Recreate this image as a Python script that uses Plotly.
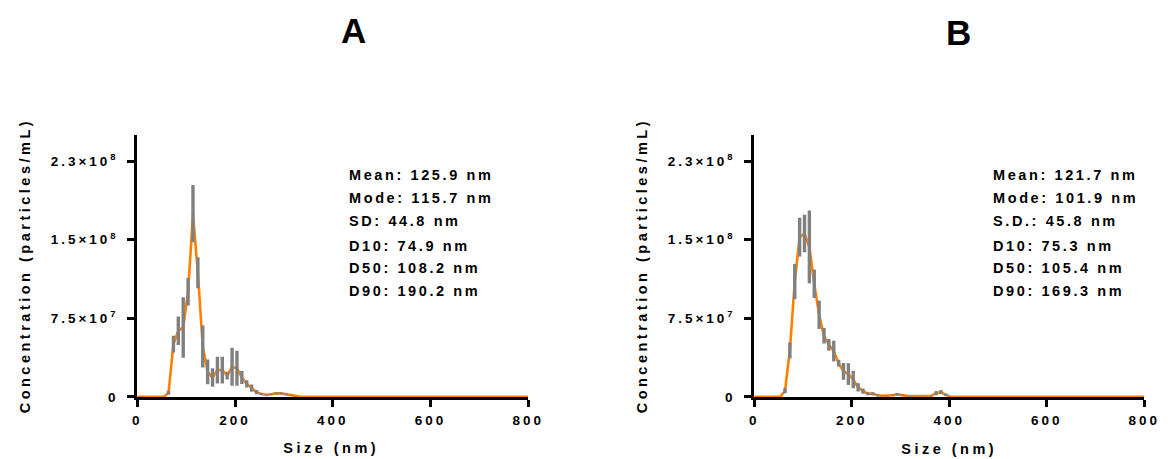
import plotly.graph_objects as go

# ---------------- data ----------------
# Panel A: particle size (nm), mean concentration (x1e7 particles/mL), half error bar (x1e7)
size_a = [0, 54, 64, 74, 84, 94, 104, 114, 124, 134, 144, 154, 164, 174, 184, 194, 204,
          214, 224, 234, 244, 254, 264, 274, 284, 294, 304, 314, 324, 334, 800]
conc_a = [0, 0, 0.4, 5.04, 6.3, 6.62, 10.02, 17.47, 11.84, 4.8, 2.39, 1.84, 2.55, 2.55, 2.03,
          2.87, 2.73, 1.85, 1.24, 0.83, 0.45, 0.27, 0.2, 0.25, 0.33, 0.33, 0.25, 0.15, 0.05, 0, 0]
err_a = [0, 0, 0.18, 0.8, 1.36, 2.89, 1.31, 2.73, 1.47, 2.0, 1.18, 0.88, 1.28, 1.28, 0.37,
         1.82, 1.68, 0.62, 0.35, 0.35, 0.2, 0.1, 0.06, 0.07, 0.1, 0.1, 0.07, 0.05, 0.02, 0, 0]

# Panel B
size_b = [0, 53, 63, 73, 83, 93, 103, 113, 123, 133, 143, 153, 163, 173, 183, 193, 203, 213,
          223, 233, 243, 253, 263, 273, 283, 293, 303, 313, 323, 333, 343, 353, 363, 373, 383,
          393, 403, 800]
conc_b = [0, 0, 0.59, 4.43, 11.0, 15.23, 15.58, 14.3, 10.79, 7.83, 5.83, 4.96, 4.37, 3.22,
          2.43, 2.18, 1.66, 0.91, 0.55, 0.3, 0.3, 0.15, 0.1, 0.1, 0.15, 0.25, 0.15, 0.1, 0.07,
          0.07, 0.07, 0.07, 0.1, 0.35, 0.45, 0.2, 0, 0]
err_b = [0, 0, 0.24, 0.76, 1.67, 1.85, 1.79, 3.47, 1.35, 1.35, 0.74, 0.56, 0.99, 0.32, 0.8,
         1.04, 0.83, 0.4, 0.25, 0.15, 0.15, 0.1, 0.05, 0.05, 0.08, 0.12, 0.08, 0.05, 0.04,
         0.03, 0.03, 0.03, 0.05, 0.2, 0.2, 0.1, 0, 0]

UNIT = 1e7

stats_a = ["Mean: 125.9 nm", "Mode: 115.7 nm", "SD: 44.8 nm",
           "D10: 74.9 nm", "D50: 108.2 nm", "D90: 190.2 nm"]
stats_b = ["Mean: 121.7 nm", "Mode: 101.9 nm", "S.D.: 45.8 nm",
           "D10: 75.3 nm", "D50: 105.4 nm", "D90: 169.3 nm"]

x_ticks = [0, 200, 400, 600, 800]
y_tickvals = [0, 7.5e7, 1.5e8, 2.25e8]
y_ticktext = ["0", "7.5×10<sup>7</sup>", "1.5×10<sup>8</sup>", "2.3×10<sup>8</sup>"]

panel_titles = ["A", "B"]

# ---------------- styling ----------------
W, H = 1175, 459
HE = 450.0  # effective vertical extent observed when rendered
FONT = "Liberation Sans, Arial, sans-serif"
ORANGE = "#FF8000"
GRAY = "#808080"


def fy(px):
    return 1 - px / HE


fig = go.Figure()

panels = [
    dict(size=size_a, conc=conc_a, err=err_a, stats=stats_a, xa="x", ya="y",
         dom=[135 / W, 531 / W], stats_x=347, title_x=354.5, title_y=30,
         ytitle_x=21, xtitle_x=332, xtitle_y=447),
    dict(size=size_b, conc=conc_b, err=err_b, stats=stats_b, xa="x2", ya="y2",
         dom=[760 / W, 1155 / W], stats_x=999.3, title_x=967, title_y=32,
         ytitle_x=646, xtitle_x=957.5, xtitle_y=448),
]

y_dom = [fy(396), fy(134.5)]
stats_y_px = [175, 197.7, 221, 245, 267.5, 290.5]

annotations = []
for i, p in enumerate(panels):
    yv = [v * UNIT for v in p["conc"]]
    ev = [v * UNIT for v in p["err"]]
    fig.add_trace(go.Scatter(
        x=p["size"], y=yv, mode="lines", xaxis=p["xa"], yaxis=p["ya"],
        line=dict(color=ORANGE, width=2.6), cliponaxis=False, showlegend=False,
        hoverinfo="skip"))
    fig.add_trace(go.Scatter(
        x=p["size"], y=yv, mode="markers", xaxis=p["xa"], yaxis=p["ya"],
        marker=dict(size=1, opacity=0),
        error_y=dict(type="data", array=ev, visible=True, color=GRAY,
                     thickness=3.4, width=0),
        cliponaxis=False, showlegend=False, hoverinfo="skip"))

    for txt, ypx in zip(p["stats"], stats_y_px):
        annotations.append(dict(
            text=txt, xref="paper", yref="paper", x=p["stats_x"] / W, y=fy(ypx),
            xanchor="left", yanchor="middle", align="left", showarrow=False,
            font=dict(family=FONT, size=14.5, color="black", weight="bold")))

    annotations.append(dict(
        text=panel_titles[i], xref="paper", yref="paper", x=p["title_x"] / W,
        y=fy(p["title_y"]), xanchor="center", yanchor="middle", showarrow=False,
        font=dict(family=FONT, size=35, color="black", weight="bold")))
    annotations.append(dict(
        text="Concentration (particles/mL)", xref="paper", yref="paper",
        x=p["ytitle_x"] / W, y=fy(265), xanchor="center", yanchor="middle",
        textangle=-90, showarrow=False,
        font=dict(family=FONT, size=14.5, color="black", weight="bold")))
    annotations.append(dict(
        text="Size (nm)", xref="paper", yref="paper",
        x=p["xtitle_x"] / W, y=fy(p["xtitle_y"]), xanchor="center", yanchor="middle",
        showarrow=False,
        font=dict(family=FONT, size=14.5, color="black", weight="bold")))

axis_common = dict(showline=True, linecolor="black", linewidth=3, ticks="outside",
                   tickcolor="black", ticklen=7, tickwidth=2.5, showgrid=False,
                   zeroline=False, layer="below traces")

for i, p in enumerate(panels):
    sfx = "" if i == 0 else "2"
    fig.layout["xaxis" + sfx] = dict(
        domain=p["dom"], range=[0, 800], tickvals=x_ticks, anchor="y" + sfx,
        ticklabelstandoff=2,
        tickfont=dict(family=FONT, size=13.5, color="black", weight="bold"),
        **axis_common)
    fig.layout["yaxis" + sfx] = dict(
        domain=y_dom, range=[0, 2.5e8], tickvals=y_tickvals, ticktext=y_ticktext,
        anchor="x" + sfx, ticklabelstandoff=6,
        tickfont=dict(family=FONT, size=13.5, color="black", weight="bold"),
        **axis_common)

fig.update_layout(
    width=W, height=H, margin=dict(l=0, r=0, t=0, b=0),
    paper_bgcolor="white", plot_bgcolor="white",
    annotations=annotations, showlegend=False,
)

post = """
var gd = document.getElementById('{plot_id}');
gd.querySelectorAll('.xtick text, .ytick text, .x2tick text, .y2tick text').forEach(function(t){ t.style.letterSpacing = '3px'; });
gd.querySelectorAll('.annotation-text').forEach(function(t){
  var s = t.textContent;
  if (s === 'A' || s === 'B') return;
  if (s.indexOf('Concentration') === 0 || s.indexOf('Size') === 0) t.style.letterSpacing = '3.5px';
  else t.style.letterSpacing = '2.6px';
});
"""

fig.write_html("out.html", post_script=post, config={"displayModeBar": False})
